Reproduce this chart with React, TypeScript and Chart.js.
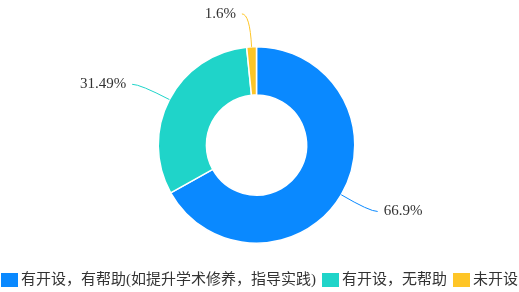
import React, { useEffect, useRef } from "react";
import { Chart, registerables } from "chart.js";

Chart.register(...registerables);

const categories = ["有开设，有帮助(如提升学术修养，指导实践)", "有开设，无帮助", "未开设"];
const values = [66.9, 31.49, 1.6];
const valueLabels = ["66.9%", "31.49%", "1.6%"];
const colors = ["#0a89ff", "#1fd4c9", "#fec527"];

const FONT = '15px "Liberation Serif", "Noto Sans CJK SC", serif';
const TEXT_COLOR = "#333";

const outLabelPlugin = {
  id: "outLabels",
  afterDatasetsDraw(chart: any) {
    const ctx = chart.ctx;
    const meta = chart.getDatasetMeta(0);
    ctx.save();
    ctx.font = FONT;
    meta.data.forEach((arc: any, i: number) => {
      const { x, y, startAngle, endAngle, outerRadius } = arc.getProps(
        ["x", "y", "startAngle", "endAngle", "outerRadius"],
        true
      );
      const mid = (startAngle + endAngle) / 2;
      const dx = Math.cos(mid);
      const dy = Math.sin(mid);
      const ax = x + dx * outerRadius;
      const ay = y + dy * outerRadius;
      const len1 = 33;
      const len2 = 8;
      const bx = ax + dx * len1;
      const by = ay + dy * len1;
      const side = dx >= 0 ? 1 : -1;
      const cx = bx + side * len2;
      const cy = by;
      ctx.strokeStyle = colors[i];
      ctx.lineWidth = 1;
      ctx.beginPath();
      ctx.moveTo(ax, ay);
      ctx.quadraticCurveTo(bx, by, cx, cy);
      ctx.stroke();
      ctx.fillStyle = TEXT_COLOR;
      ctx.textBaseline = "middle";
      ctx.textAlign = side > 0 ? "left" : "right";
      ctx.fillText(valueLabels[i], cx + side * 6, cy);
    });
    ctx.restore();
  },
};

const legendPlugin = {
  id: "bottomLegend",
  afterDraw(chart: any) {
    const ctx = chart.ctx;
    const boxW = 17;
    const boxH = 14;
    const gapBox = 3;
    const gapItem = 6;
    const centerY = 280;
    ctx.save();
    ctx.font = FONT;
    const widths = categories.map((c) => ctx.measureText(c).width);
    const total =
      widths.reduce((s, w) => s + boxW + gapBox + w, 0) + gapItem * (categories.length - 1);
    let x = (chart.width - total) / 2;
    categories.forEach((c, i) => {
      ctx.fillStyle = colors[i];
      ctx.fillRect(x, centerY - boxH / 2, boxW, boxH);
      x += boxW + gapBox;
      ctx.fillStyle = TEXT_COLOR;
      ctx.textBaseline = "middle";
      ctx.textAlign = "left";
      ctx.fillText(c, x, centerY);
      x += widths[i] + gapItem;
    });
    ctx.restore();
  },
};

export default function App() {
  const canvasRef = useRef<HTMLCanvasElement | null>(null);

  useEffect(() => {
    if (!canvasRef.current) return;
    const chart = new Chart(canvasRef.current, {
      type: "doughnut",
      data: {
        labels: categories,
        datasets: [
          {
            data: values,
            backgroundColor: colors,
            borderColor: "#ffffff",
            borderWidth: 1.5,
            hoverOffset: 0,
          },
        ],
      },
      options: {
        animation: false,
        responsive: true,
        maintainAspectRatio: false,
        cutout: "51%",
        layout: { padding: { top: 46, bottom: 48, left: 0, right: 6 } },
        plugins: {
          legend: { display: false },
          tooltip: { enabled: false },
        },
      },
      plugins: [outLabelPlugin, legendPlugin],
    });
    return () => chart.destroy();
  }, []);

  return (
    <div style={{ position: "absolute", left: 0, top: 0, width: 519, height: 292 }}>
      <canvas ref={canvasRef} />
    </div>
  );
}
